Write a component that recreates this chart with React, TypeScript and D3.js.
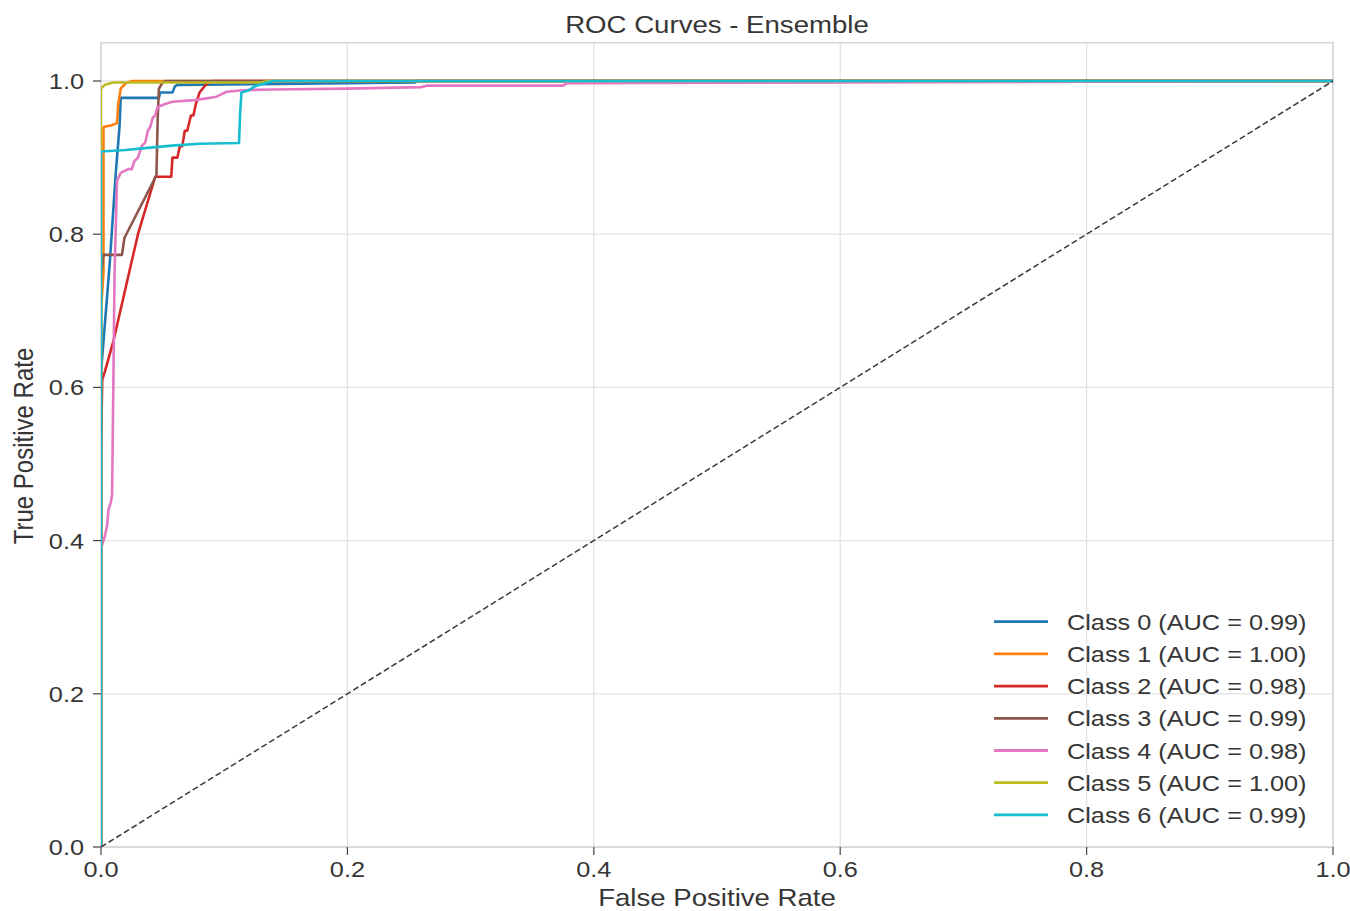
import React, { useRef, useEffect } from "react";
import * as d3 from "d3";

// ROC points [fpr, tpr]
const class0Roc = [[0, 0], [0, 0.62], [0.002, 0.66], [0.007, 0.76], [0.012, 0.88], [0.015, 0.94], [0.016, 0.978], [0.047, 0.978], [0.048, 0.985], [0.058, 0.985], [0.06, 0.993], [0.062, 0.995], [0.2, 0.997], [0.255, 0.998], [0.256, 1.0], [1, 1]];
const class1Roc = [[0, 0], [0, 0.7], [0.002, 0.75], [0.002, 0.94], [0.008, 0.942], [0.013, 0.945], [0.014, 0.97], [0.016, 0.99], [0.02, 0.997], [0.025, 1.0], [1, 1]];
const class2Roc = [[0, 0], [0, 0.52], [0.001, 0.61], [0.003, 0.62], [0.01, 0.66], [0.02, 0.73], [0.03, 0.8], [0.044, 0.875], [0.057, 0.875], [0.058, 0.9], [0.062, 0.9], [0.064, 0.915], [0.066, 0.915], [0.068, 0.935], [0.07, 0.935], [0.073, 0.955], [0.075, 0.955], [0.077, 0.97], [0.08, 0.985], [0.085, 0.995], [0.09, 1.0], [1, 1]];
const class3Roc = [[0, 0], [0, 0.745], [0.002, 0.773], [0.017, 0.773], [0.019, 0.795], [0.045, 0.877], [0.046, 0.95], [0.047, 0.99], [0.05, 0.998], [0.052, 1.0], [1, 1]];
const class4Roc = [[0, 0], [0, 0.39], [0.003, 0.405], [0.005, 0.42], [0.006, 0.44], [0.008, 0.45], [0.009, 0.46], [0.01, 0.6], [0.011, 0.75], [0.013, 0.87], [0.016, 0.88], [0.022, 0.885], [0.025, 0.885], [0.027, 0.895], [0.03, 0.9], [0.033, 0.915], [0.036, 0.92], [0.038, 0.935], [0.04, 0.94], [0.042, 0.952], [0.044, 0.955], [0.046, 0.966], [0.052, 0.97], [0.058, 0.973], [0.076, 0.975], [0.093, 0.979], [0.102, 0.986], [0.115, 0.988], [0.14, 0.989], [0.2, 0.99], [0.26, 0.992], [0.265, 0.994], [0.375, 0.994], [0.378, 0.997], [1, 1]];
const class5Roc = [[0, 0], [0, 0.99], [0.003, 0.995], [0.01, 0.998], [0.13, 0.998], [0.135, 1.0], [1, 1]];
const class6Roc = [[0, 0], [0, 0.908], [0.02, 0.91], [0.04, 0.913], [0.06, 0.916], [0.08, 0.918], [0.112, 0.919], [0.113, 0.96], [0.114, 0.985], [0.12, 0.988], [0.125, 0.993], [0.135, 0.998], [0.14, 1.0], [1, 1]];

const classNames = ["Class 0", "Class 1", "Class 2", "Class 3", "Class 4", "Class 5", "Class 6"];
const aucValues = [0.99, 1.0, 0.98, 0.99, 0.98, 1.0, 0.99];
const classColors = ["#1f77b4", "#ff7f0e", "#d62728", "#8c564b", "#e377c2", "#bcbd22", "#17becf"];
const curves = [class0Roc, class1Roc, class2Roc, class3Roc, class4Roc, class5Roc, class6Roc];

const xTicks = [0, 0.2, 0.4, 0.6, 0.8, 1.0];
const yTicks = [0, 0.2, 0.4, 0.6, 0.8, 1.0];

const W = 1350, H = 911;
const SX = 1.15; // picture is a bit wider than tall, stretch text to match
const FONT = "'Liberation Sans', Arial, sans-serif";

export default function App() {
  const svgRef = useRef(null);

  useEffect(() => {
    document.body.style.margin = "0";
    const svg = d3.select(svgRef.current);
    svg.selectAll("*").remove();

    const left = 101, right = 1333, bottom = 847;
    const x = d3.scaleLinear().domain([0, 1]).range([left, right]);
    const y = d3.scaleLinear().domain([0, 1.05]).range([bottom, bottom - 1.05 * 766]);
    const top = y(1.05);

    const text = (g, tx, ty, str, size, anchor, rot = 0) =>
      g.append("text")
        .attr("transform", `translate(${tx},${ty}) scale(${SX},1)` + (rot ? ` rotate(${rot})` : ""))
        .attr("text-anchor", anchor)
        .attr("font-family", FONT)
        .attr("font-size", size)
        .attr("fill", "#363636")
        .text(str);

    svg.append("rect").attr("width", W).attr("height", H).attr("fill", "#fff");

    svg.append("defs").append("clipPath").attr("id", "plotclip")
      .append("rect").attr("x", left).attr("y", top).attr("width", right - left).attr("height", bottom - top);

    // grid
    const grid = svg.append("g").attr("stroke", "#e2e2e2").attr("stroke-width", 1.3);
    xTicks.forEach(t => grid.append("line").attr("x1", x(t)).attr("x2", x(t)).attr("y1", top).attr("y2", bottom));
    yTicks.forEach(t => grid.append("line").attr("x1", left).attr("x2", right).attr("y1", y(t)).attr("y2", y(t)));

    // frame
    svg.append("rect").attr("x", left).attr("y", top).attr("width", right - left).attr("height", bottom - top)
      .attr("fill", "none").attr("stroke", "#d4d4d4").attr("stroke-width", 1.5);

    // ticks + labels
    const axes = svg.append("g");
    xTicks.forEach(t => {
      axes.append("line").attr("x1", x(t)).attr("x2", x(t)).attr("y1", bottom).attr("y2", bottom + 8)
        .attr("stroke", "#444").attr("stroke-width", 1.2);
      text(axes, x(t), 877, d3.format(".1f")(t), 22, "middle");
    });
    yTicks.forEach(t => {
      axes.append("line").attr("x1", left - 8).attr("x2", left).attr("y1", y(t)).attr("y2", y(t))
        .attr("stroke", "#444").attr("stroke-width", 1.2);
      text(axes, 84, y(t) + 8, d3.format(".1f")(t), 22, "end");
    });

    // curves
    const line = d3.line().x(d => x(d[0])).y(d => y(d[1]));
    const plot = svg.append("g").attr("clip-path", "url(#plotclip)");
    curves.forEach((c, i) => {
      plot.append("path").datum(c).attr("d", line).attr("fill", "none")
        .attr("stroke", classColors[i]).attr("stroke-width", 2.6).attr("stroke-linejoin", "round");
    });
    plot.append("path").datum([[0, 0], [1, 1]]).attr("d", line).attr("fill", "none")
      .attr("stroke", "#3a3a3a").attr("stroke-width", 1.5).attr("stroke-dasharray", "6,3");

    // titles
    text(svg, (left + right) / 2, 33, "ROC Curves - Ensemble", 24, "middle");
    text(svg, (left + right) / 2, 906, "False Positive Rate", 24, "middle");
    text(svg, 33, 446, "True Positive Rate", 24, "middle", -90);

    // legend
    const leg = svg.append("g");
    classNames.forEach((n, i) => {
      const ly = 621.7 + i * 32.2;
      leg.append("line").attr("x1", 994).attr("x2", 1048).attr("y1", ly).attr("y2", ly)
        .attr("stroke", classColors[i]).attr("stroke-width", 2.8);
      text(leg, 1067, ly + 8, `${n} (AUC = ${aucValues[i].toFixed(2)})`, 22, "start");
    });
  }, []);

  return <svg ref={svgRef} width={W} height={H} style={{ display: "block" }} />;
}
